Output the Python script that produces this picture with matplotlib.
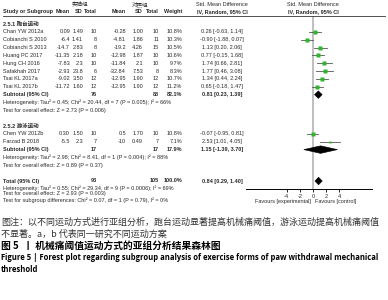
import matplotlib
matplotlib.use("Agg")
import matplotlib.pyplot as plt
from matplotlib.transforms import blended_transform_factory

# ---- data -------------------------------------------------------------
studies1 = ["Chan YW 2012a", "Cobianchi S 2010", "Cobianchi S 2013", "Huang PC 2017",
            "Hung CH 2016", "Safakhah 2017", "Tsai KL 2017a", "Tsai KL 2017b"]
exp_mean1 = ["0.09", "-6.4", "-14.7", "-11.35", "-7.83", "-2.93", "-9.02", "-11.72"]
exp_sd1 = ["1.49", "1.41", "2.83", "2.18", "2.3", "23.8", "3.50", "1.60"]
exp_n1 = [10, 8, 8, 10, 10, 6, 12, 12]
ctl_mean1 = ["-0.28", "-4.81", "-19.2", "-12.98", "-11.84", "-32.84", "-12.95", "-12.95"]
ctl_sd1 = ["1.00", "1.86", "4.26", "1.87", "2.1", "7.53", "1.90", "1.90"]
ctl_n1 = [10, 11, 15, 10, 10, 8, 12, 12]
weight1 = [10.8, 10.3, 10.5, 10.6, 9.7, 8.3, 10.7, 11.2]
smd1 = [0.26, -0.90, 1.13, 0.77, 1.74, 1.77, 1.34, 0.65]
lo1 = [-0.63, -1.88, 0.20, -0.15, 0.66, 0.46, 0.44, -0.18]
hi1 = [1.14, 0.07, 2.06, 1.68, 2.81, 3.08, 2.24, 1.47]

studies2 = ["Chen YW 2012b", "Farzad B 2018"]
exp_mean2 = ["0.30", "-5.5"]
exp_sd2 = ["1.50", "2.3"]
exp_n2 = [10, 7]
ctl_mean2 = ["0.5", "-10"]
ctl_sd2 = ["1.70", "0.49"]
ctl_n2 = [10, 7]
weight2 = [10.8, 7.1]
smd2 = [-0.07, 2.53]
lo2 = [-0.95, 1.01]
hi2 = [0.81, 4.05]

# pooled estimates: subgroup 1, subgroup 2, total
pooled_est = [0.81, 1.15, 0.84]
pooled_lo = [0.23, -1.39, 0.29]
pooled_hi = [1.39, 3.70, 1.40]
pooled_w = ["82.1%", "17.9%", "100.0%"]

het_lines = [
    "Heterogeneity: Tau\u00b2 = 0.45; Chi\u00b2 = 20.44, df = 7 (P = 0.005); I\u00b2 = 66%",
    "Test for overall effect: Z = 2.73 (P = 0.006)",
    "Heterogeneity: Tau\u00b2 = 2.98; Chi\u00b2 = 8.41, df = 1 (P = 0.004); I\u00b2 = 88%",
    "Test for overall effect: Z = 0.89 (P = 0.37)",
    "Heterogeneity: Tau\u00b2 = 0.55; Chi\u00b2 = 29.34, df = 9 (P = 0.0006); I\u00b2 = 69%",
    "Test for overall effect: Z = 2.93 (P = 0.003)",
    "Test for subgroup differences: Chi\u00b2 = 0.07, df = 1 (P = 0.79), I\u00b2 = 0%",
]
ticks = [-4, -2, 0, 2, 4]

caption = [
    "图注：以不同运动方式进行亚组分析，跑台运动显著提高机械痛阈值，游泳运动提高机械痛阈值",
    "不显著。a，b 代表同一研究不同运动方案",
    "图 5  丨 机械痛阈值运动方式的亚组分析结果森林图",
    "Figure 5 | Forest plot regarding subgroup analysis of exercise forms of paw withdrawal mechanical",
    "threshold",
]

# ---- layout -----------------------------------------------------------
W, H = 388, 300
FAM = ["Liberation Sans", "Noto Sans CJK SC", "DejaVu Sans"]
CJK = ["Noto Sans CJK SC", "DejaVu Sans"]
FS = 4.0
TXT = "#2a2a2a"
ROW0, STEP = 24, 7.85  # pixel y of row 0 and row spacing
AX_TOP, AX_BOT = 16, 189


def fx(px):
    return px / W


def fy(py):
    return 1 - py / H


fig = plt.figure(figsize=(W / 100, H / 100), dpi=100)
ax = fig.add_axes([fx(246), fy(AX_BOT), fx(372 - 246), (AX_BOT - AX_TOP) / H])
ax.set_xlim((246 - 313) / 6.6, (372 - 313) / 6.6)
ax.set_ylim((AX_BOT - ROW0) / STEP, (AX_TOP - ROW0) / STEP)
for s in ["top", "right", "left"]:
    ax.spines[s].set_visible(False)
ax.spines["bottom"].set_linewidth(0.7)
ax.set_yticks([])
ax.set_xticks(ticks)
ax.set_xticklabels([str(t) for t in ticks], fontsize=FS, family=FAM, color=TXT)
ax.tick_params(axis="x", length=2.5, width=0.6, pad=1)
ax.axvline(0, color="#b4b4b4", lw=1.2, zorder=1)

tr = blended_transform_factory(fig.transFigure, ax.transData)


def put(x, row, s, ha="left", bold=False, **kw):
    fig.text(fx(x), row, s, transform=tr, ha=ha, va="center", fontsize=FS,
             family=FAM, color=TXT, fontweight="bold" if bold else "normal", **kw)


cols = [70, 83, 97, 126, 143, 159, 182]
CI_X = 222

# header
hdr0 = (5 - ROW0) / STEP
hdr1 = (11.5 - ROW0) / STEP
put(80, hdr0, "实验组", ha="center")
put(140, hdr0, "对照组", ha="center")
put(CI_X, hdr0, "Std. Mean Difference", ha="center")
put(313, hdr0, "Std. Mean Difference", ha="center")
put(3, hdr1, "Study or Subgroup", bold=True)
for x, s in zip(cols, ["Mean", "SD", "Total", "Mean", "SD", "Total", "Weight"]):
    put(x, hdr1, s, ha="right", bold=True)
put(CI_X, hdr1, "IV, Random, 95% CI", ha="center", bold=True)
put(313, hdr1, "IV, Random, 95% CI", ha="center", bold=True)
fig.add_artist(plt.Line2D([fx(3), fx(385)], [fy(16), fy(16)], color="#333333", lw=0.6))


def study_rows(start, names, em, es, en, cm, cs, cn, w, est, lo, hi):
    for i, name in enumerate(names):
        r = start + i
        put(3, r, name)
        vals = [em[i], es[i], str(en[i]), cm[i], cs[i], str(cn[i]), f"{w[i]:.1f}%"]
        for x, v in zip(cols, vals):
            put(x, r, v, ha="right")
        put(CI_X, r, f"{est[i]:.2f} [{lo[i]:.2f}, {hi[i]:.2f}]", ha="center")
        ax.plot([lo[i], hi[i]], [r, r], color="#555555", lw=0.6, zorder=2)
        ax.plot(est[i], r, "s", color="#2db52d", ms=w[i] ** 0.5 * 0.8,
                mec="none", zorder=3)


def diamond(row, k):
    e, l, h = pooled_est[k], pooled_lo[k], pooled_hi[k]
    ax.fill([l, e, h, e], [row, row - 0.48, row, row + 0.48], color="black",
            lw=0.4, zorder=4)
    put(CI_X, row, f"{e:.2f} [{l:.2f}, {h:.2f}]", ha="center", bold=True)
    put(cols[6], row, pooled_w[k], ha="right", bold=True)


put(3, 0, "2.5.1 跑台运动", bold=True)
study_rows(1, studies1, exp_mean1, exp_sd1, exp_n1, ctl_mean1, ctl_sd1, ctl_n1,
           weight1, smd1, lo1, hi1)
put(3, 9, "Subtotal (95% CI)", bold=True)
put(cols[2], 9, str(sum(exp_n1)), ha="right", bold=True)
put(cols[5], 9, str(sum(ctl_n1)), ha="right", bold=True)
diamond(9, 0)
put(3, 10, het_lines[0])
put(3, 11, het_lines[1])

put(3, 13, "2.5.2 游泳运动", bold=True)
study_rows(14, studies2, exp_mean2, exp_sd2, exp_n2, ctl_mean2, ctl_sd2, ctl_n2,
           weight2, smd2, lo2, hi2)
put(3, 16, "Subtotal (95% CI)", bold=True)
put(cols[2], 16, str(sum(exp_n2)), ha="right", bold=True)
put(cols[5], 16, str(sum(ctl_n2)), ha="right", bold=True)
diamond(16, 1)
put(3, 17, het_lines[2])
put(3, 18, het_lines[3])

put(3, 20, "Total (95% CI)", bold=True)
put(cols[2], 20, str(sum(exp_n1) + sum(exp_n2)), ha="right", bold=True)
put(cols[5], 20, str(sum(ctl_n1) + sum(ctl_n2)), ha="right", bold=True)
diamond(20, 2)
put(3, 20.9, het_lines[4])
put(3, 21.65, het_lines[5])
put(3, 22.4, het_lines[6])

fav_row = (202 - ROW0) / STEP
ax.text(-0.3, fav_row, "Favours [experimental]", ha="right", va="center",
        fontsize=FS, family=FAM, color=TXT, clip_on=False)
ax.text(0.3, fav_row, "Favours [control]", ha="left", va="center",
        fontsize=FS, family=FAM, color=TXT, clip_on=False)

# caption
cap_y = [222, 234, 246, 258, 270]
fig.text(fx(1), fy(cap_y[0]), caption[0], fontsize=6.5, family=CJK, color="#333333",
         va="center")
fig.text(fx(1), fy(cap_y[1]), caption[1], fontsize=6.5, family=CJK, color="#333333",
         va="center")
fig.text(fx(1), fy(cap_y[2]), caption[2], fontsize=7.0, family=CJK, color="black",
         va="center", fontweight="bold")
for i in (3, 4):
    fig.text(fx(1), fy(cap_y[i]), caption[i], fontsize=5.5,
             family=["Open Sans", "DejaVu Sans"], color="black", va="center",
             fontweight="bold")

fig.savefig("out.png", dpi=100, facecolor="white")
